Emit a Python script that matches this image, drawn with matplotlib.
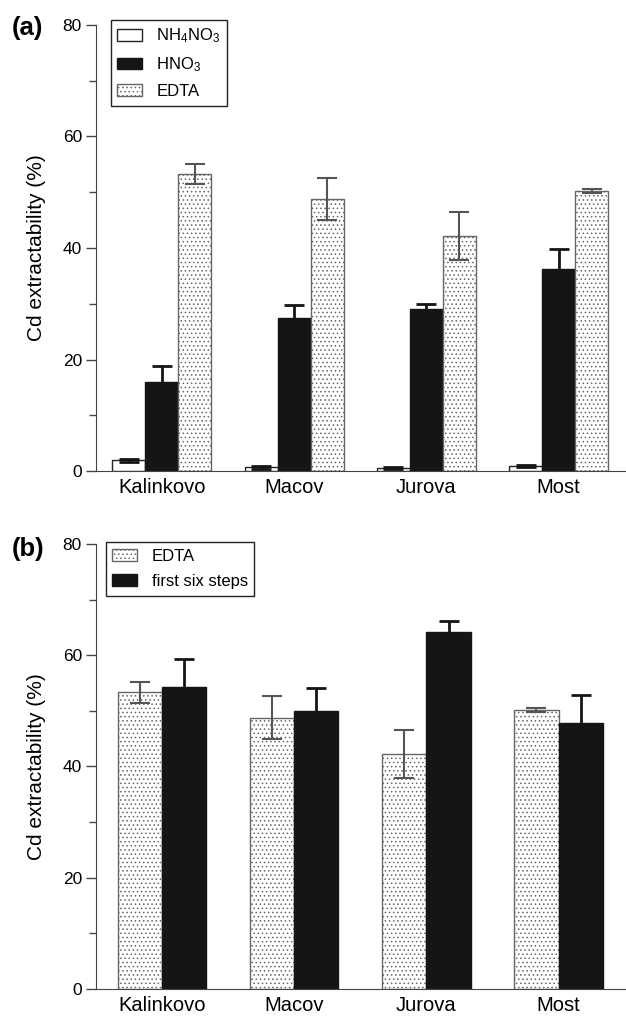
import numpy as np
import matplotlib
matplotlib.use("Agg")
import matplotlib.pyplot as plt

plt.rcParams["font.family"] = ["Liberation Sans", "DejaVu Sans"]
plt.rcParams["mathtext.fontset"] = "custom"
plt.rcParams["mathtext.rm"] = "Liberation Sans"
plt.rcParams["hatch.linewidth"] = 0.6

sites = ["Kalinkovo", "Macov", "Jurova", "Most"]

# panel (a)
nh4no3 = [1.9, 0.65, 0.6, 0.9]
nh4no3_err = [0.3, 0.2, 0.15, 0.25]
hno3 = [15.9, 27.4, 29.1, 36.2]
hno3_err = [2.9, 2.3, 0.9, 3.7]
edta = [53.3, 48.8, 42.2, 50.2]
edta_err = [1.8, 3.8, 4.3, 0.4]

# panel (b)
six_steps = [54.3, 49.9, 64.2, 47.9]
six_steps_err = [5.0, 4.2, 1.9, 4.9]

x = np.arange(len(sites))
dark = "#151515"

fig = plt.figure(figsize=(6.26, 10.16), dpi=100)
ax1 = fig.add_axes([0.153, 0.5364, 0.845, 0.439])
ax2 = fig.add_axes([0.153, 0.0266, 0.845, 0.438])

# error bars same colour as the black bars so the lower half disappears
black_err = dict(ecolor=dark, elinewidth=2.0, capsize=7, capthick=2.0)
grey_err = dict(ecolor="#555555", elinewidth=1.5, capsize=7, capthick=1.5)

# (a)
w = 0.25
ax1.bar(x - w, nh4no3, w, yerr=nh4no3_err, color="white", edgecolor="#222222",
        linewidth=1.0, error_kw=black_err, label=r"$\mathregular{NH_4NO_3}$")
ax1.bar(x, hno3, w, yerr=hno3_err, color=dark, edgecolor=dark,
        linewidth=1.0, error_kw=black_err, label=r"$\mathregular{HNO_3}$")
ax1.bar(x + w, edta, w, yerr=edta_err, color="white", edgecolor="#666666",
        hatch="....", linewidth=1.0, error_kw=grey_err, label="EDTA")

# (b)
w2 = 0.335
ax2.bar(x - w2 / 2, edta, w2, yerr=edta_err, color="white", edgecolor="#666666",
        hatch="....", linewidth=1.0, error_kw=grey_err, label="EDTA")
ax2.bar(x + w2 / 2, six_steps, w2, yerr=six_steps_err, color=dark,
        edgecolor=dark, linewidth=1.0, error_kw=black_err,
        label="first six steps")

for ax, anchor in ((ax1, (0.028, 1.011)), (ax2, (0.019, 1.004))):
    ax.set_xlim(-0.5, 3.5)
    ax.set_ylim(0, 80)
    ax.set_yticks([0, 20, 40, 60, 80])
    ax.set_yticks([10, 30, 50, 70], minor=True)
    ax.spines["top"].set_visible(False)
    ax.spines["right"].set_visible(False)
    ax.spines["left"].set_color("#444444")
    ax.spines["bottom"].set_color("#444444")
    ax.tick_params(axis="y", which="major", length=7, width=1, color="#444444",
                   labelsize=12.5, pad=3)
    ax.tick_params(axis="y", which="minor", length=5, width=1, color="#444444")
    ax.tick_params(axis="x", length=0, labelsize=14.5, pad=5)
    ax.set_xticks(x)
    ax.set_xticklabels(sites)
    ax.set_ylabel("Cd extractability (%)", fontsize=15, labelpad=12)
    ax.legend(loc="upper left", bbox_to_anchor=anchor, borderaxespad=0,
              fontsize=12, frameon=True, fancybox=False, edgecolor="#222222",
              framealpha=1, handlelength=1.5, borderpad=0.4,
              labelspacing=0.6, handletextpad=0.85)

fig.text(0.019, 0.972, "(a)", fontsize=18.5, fontweight="bold", va="center")
fig.text(0.019, 0.4597, "(b)", fontsize=18.5, fontweight="bold", va="center")

fig.savefig("out.png", dpi=100)
